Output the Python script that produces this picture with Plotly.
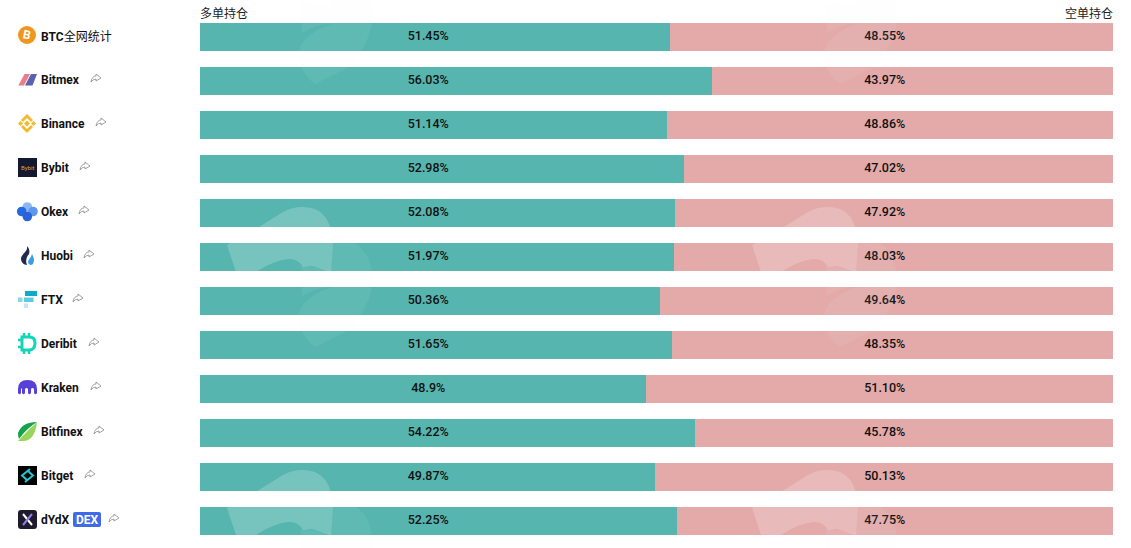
import re
import plotly.graph_objects as go

exchanges = ['BTC全网统计', 'Bitmex', 'Binance', 'Bybit', 'Okex', 'Huobi', 'FTX', 'Deribit', 'Kraken', 'Bitfinex', 'Bitget', 'dYdX']
long_pct = [51.45, 56.03, 51.14, 52.98, 52.08, 51.97, 50.36, 51.65, 48.9, 54.22, 49.87, 52.25]
short_pct = [48.55, 43.97, 48.86, 47.02, 47.92, 48.03, 49.64, 48.35, 51.10, 45.78, 50.13, 47.75]
long_labels = ['51.45%', '56.03%', '51.14%', '52.98%', '52.08%', '51.97%', '50.36%', '51.65%', '48.9%', '54.22%', '49.87%', '52.25%']
short_labels = ['48.55%', '43.97%', '48.86%', '47.02%', '47.92%', '48.03%', '49.64%', '48.35%', '51.10%', '45.78%', '50.13%', '47.75%']
share_x = [None, 96, 101, 85, 84, 89, 78, 94, 96, 99, 90, 114]

W, H = 1131, 548
L, R, T, B = 200, 18, 15, 5
plot_w = W - L - R
plot_h = H - T - B


def fx(x):
    return (x - L) / plot_w


def fy(y):
    return 1 - (y - T) / plot_h


def conv(d):
    # path written in screen pixels -> paper fractions
    return re.sub(r'(-?[\d.]+),(-?[\d.]+)',
                  lambda m: '%.5f,%.5f' % (fx(float(m.group(1))), fy(float(m.group(2)))), d)


shapes = []


def add_path(d, fill=None, line=None, width=0, layer='above'):
    shapes.append(dict(type='path', xref='paper', yref='paper', path=conv(d), layer=layer,
                       fillcolor=fill if fill else 'rgba(0,0,0,0)',
                       line=dict(color=line if line else 'rgba(0,0,0,0)', width=width)))


def add_circle(cx, cy, r, fill):
    shapes.append(dict(type='circle', xref='paper', yref='paper',
                       x0=fx(cx - r), x1=fx(cx + r), y0=fy(cy + r), y1=fy(cy - r),
                       fillcolor=fill, line=dict(width=0)))


def round_rect(x0, y0, x1, y1, r):
    return ('M%g,%g L%g,%g Q%g,%g %g,%g L%g,%g Q%g,%g %g,%g L%g,%g Q%g,%g %g,%g L%g,%g Q%g,%g %g,%g Z'
            % (x0 + r, y0, x1 - r, y0, x1, y0, x1, y0 + r, x1, y1 - r, x1, y1, x1 - r, y1,
               x0 + r, y1, x0, y1, x0, y1 - r, x0, y0 + r, x0, y0, x0 + r, y0))


# background watermark, repeats down and across the page
wm_a = 'M227,245 L259,227 L283,212 Q298,204 315,209 Q327,214 331,230 L333,245 L331,272 L312,266 L303,267 Q298,258 288,259 Q272,261 256,272 L236,272 Z'
wm_b = 'M330,235 Q355,235 368,258 Q376,278 369,298 Q358,325 345,332 L315,347 Q305,340 299,325 Q297,308 308,300 Q320,290 332,287 Q318,286 302,296 L301,266 L331,270 L333,245 Z'
for off_x in [0, 525]:
    for off_y in [-263, 0, 263]:
        shift = lambda m: '%g,%g' % (float(m.group(1)) + off_x, float(m.group(2)) + off_y)
        add_path(re.sub(r'([\d.]+),([\d.]+)', shift, wm_b), fill='rgba(240,243,255,0.07)')
        add_path(re.sub(r'([\d.]+),([\d.]+)', shift, wm_a), fill='rgba(255,255,255,0.2)')

# logos
add_circle(27, 35, 9, '#f0961f')
add_path('M18.3,85.6 L24,85.6 L30,74 L24.5,74 Z', fill='#e8808c')
add_path('M25,85.6 L32.5,85.6 L37,74 L31,74 Z', fill='#5b62ac')

gold = '#f3ba2f'
add_path('M27,114 L33,120 L31,122 L27,118 L23,122 L21,120 Z', fill=gold)
add_path('M27,133 L33,127 L31,125 L27,129 L23,125 L21,127 Z', fill=gold)
add_path('M27,120.5 L30,123.5 L27,126.5 L24,123.5 Z', fill=gold)
add_path('M20.5,121 L23,123.5 L20.5,126 L18,123.5 Z', fill=gold)
add_path('M33.5,121 L36,123.5 L33.5,126 L31,123.5 Z', fill=gold)

add_path('M18,158 L37,158 L37,177 L18,177 Z', fill='#15192f')

add_circle(27.3, 207, 4.8, '#8ab8f5')
add_circle(33, 211.5, 4.8, '#5f97ee')
add_circle(21.7, 211.5, 4.8, '#2468e4')
add_circle(27.3, 216.5, 4.8, '#2a63d8')

add_path('M27,246 C28,252 21,254 21,259 C21,262 24,265 27,265 C25,261 27,256 29,254 C30,251 29,248 27,246 Z', fill='#1f2a4d')
add_path('M32,254 C31,258 28,260 28,262 C28,264 30,265 31,265 C33,265 34,262 34,260 C34,258 33,256 32,254 Z', fill='#3b9fe8')

add_path('M25,291 L37,291 L37,296 L25,296 Z', fill='#11a9c9')
add_path('M18,297.5 L22.5,297.5 L22.5,302 L18,302 Z', fill='#8ad6e6')
add_path('M24,297.5 L33.5,297.5 L33.5,302 L24,302 Z', fill='#5fcbe0')
add_path('M24,303.5 L28,303.5 L28,308 L24,308 Z', fill='#bfe9f2')

teal = '#13d5b9'
add_path('M22,337 L29,337 Q35,337 35,343 Q35,350 29,350 L22,350 Z', line=teal, width=3)
add_path('M18,340 L22,340 M18,347 L22,347 M24,333 L24,337 M29,333 L29,337 M24,350 L24,354 M29,350 L29,354', line=teal, width=2.5)

add_path('M18,393 L18,389 Q18,380 27.5,380 Q37,380 37,389 L37,393 Q35.5,395.5 34,393 L34,389 Q32.5,387 31,389 L31,393 Q29.5,395.5 28,393 L28,389 Q26.5,387 25,389 L25,393 Q23.5,395.5 22,393 L22,389 Q21,387.5 21,389 L21,393 Q19.5,395.5 18,393 Z', fill='#5741d9')

add_path('M37,422 Q22,422 18,433 Q18,437 19,439 Q27,428 37,422 Z', fill='#16a34a')
add_path('M37,422 Q35,440 24,441 Q20,441 18,441 Q26,432 37,422 Z', fill='#96d65a')

add_path('M18,466 L37,466 L37,485 L18,485 Z', fill='#000000')
add_path('M30,469 L22,475.5 L27,480 M25,482 L33,475.5 L28,471', line='#1fc7d4', width=2)

add_path(round_rect(18, 510, 37, 529, 3), fill='#1e1b2e')
add_path('M23,514 L32,525', line='#ffffff', width=2)
add_path('M32,514 L23,525', line='#8f7fe0', width=2)
add_path(round_rect(73, 512, 101, 527, 2), fill='#3f6be8')

# little share arrows next to the exchange names
for i, sx in enumerate(share_x):
    if sx is None:
        continue
    sy = 78 + (i - 1) * 44
    add_path('M%g,%g Q%g,%g %g,%g L%g,%g L%g,%g L%g,%g L%g,%g Q%g,%g %g,%g Z'
             % (sx - 5, sy + 4, sx - 4, sy - 2, sx, sy - 2, sx, sy - 4, sx + 5, sy, sx, sy + 3,
                sx, sy + 1, sx - 3, sy + 1, sx - 5, sy + 4),
             line='#8a8a8a', width=0.8)

annotations = []
for i, name in enumerate(exchanges):
    annotations.append(dict(xref='paper', yref='paper', x=fx(39), y=fy(36 + i * 44), text='<b>%s</b>' % name if i else '<b>BTC</b>全网统计',
                            xanchor='left', yanchor='middle', showarrow=False,
                            font=dict(family='Roboto, "Noto Sans CJK SC"', size=12, color='#111111')))

annotations += [
    dict(xref='paper', yref='paper', x=fx(198), y=fy(12), text='多单持仓', xanchor='left', yanchor='middle', showarrow=False,
         font=dict(family='"Noto Sans CJK SC"', size=12, color='#222222')),
    dict(xref='paper', yref='paper', x=fx(1115), y=fy(12), text='空单持仓', xanchor='right', yanchor='middle', showarrow=False,
         font=dict(family='"Noto Sans CJK SC"', size=12, color='#222222')),
    dict(xref='paper', yref='paper', x=fx(87), y=fy(520), text='<b>DEX</b>', xanchor='center', yanchor='middle', showarrow=False,
         font=dict(family='Roboto', size=12, color='#ffffff')),
    dict(xref='paper', yref='paper', x=fx(27), y=fy(35), text='<b>B</b>', textangle=12, xanchor='center', yanchor='middle', showarrow=False,
         font=dict(family='Roboto', size=12, color='#ffffff')),
    dict(xref='paper', yref='paper', x=fx(27.5), y=fy(167.5), text='Bybit', xanchor='center', yanchor='middle', showarrow=False,
         font=dict(family='Roboto', size=6, color='#d4a93a')),
]

fig = go.Figure()
fig.add_trace(go.Bar(y=exchanges, x=long_pct, orientation='h', marker=dict(color='#56B6AF', line=dict(width=0)), showlegend=False, hoverinfo='skip'))
fig.add_trace(go.Bar(y=exchanges, x=short_pct, orientation='h', marker=dict(color='#E3AAA9', line=dict(width=0)), showlegend=False, hoverinfo='skip'))
label_font = dict(family='Roboto', size=12.5, color='#111111', weight=500)
fig.add_trace(go.Scatter(y=exchanges, x=[25] * len(exchanges), mode='text', text=long_labels, textposition='middle center',
                         textfont=label_font, showlegend=False, hoverinfo='skip'))
fig.add_trace(go.Scatter(y=exchanges, x=[75] * len(exchanges), mode='text', text=short_labels, textposition='middle center',
                         textfont=label_font, showlegend=False, hoverinfo='skip'))

fig.update_layout(
    width=W, height=H,
    margin=dict(l=L, r=R, t=T, b=B),
    barmode='stack',
    bargap=16 / 44,
    plot_bgcolor='white',
    paper_bgcolor='white',
    xaxis=dict(range=[0, 100], visible=False, fixedrange=True),
    yaxis=dict(range=[11.5, -0.5], visible=False, fixedrange=True),
    shapes=shapes,
    annotations=annotations,
)

fig.write_html('out.html', config={'displayModeBar': False},
               post_script="document.body.style.margin='0';document.body.style.overflow='hidden';")
